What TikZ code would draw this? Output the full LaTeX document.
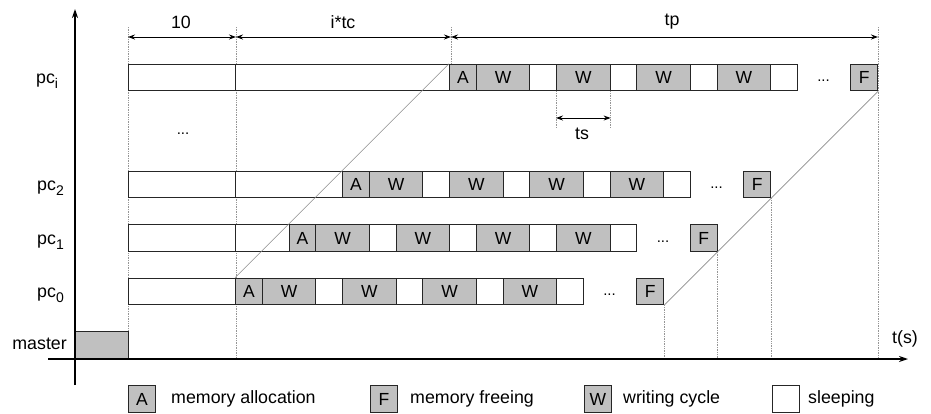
\documentclass[tikz,border=0pt]{standalone}
\usepackage{fontspec}
\setmainfont{Liberation Sans}
\usetikzlibrary{arrows.meta}
\definecolor{boxgray}{RGB}{192,192,192}
\definecolor{guide}{RGB}{150,150,150}
\definecolor{diagc}{RGB}{140,140,140}
\newcommand\fs{\fontsize{17.5}{20}\selectfont}
\newcommand\fl{\fontsize{17.8}{20}\selectfont}
\newcommand\seg[6]{\node[#1, minimum width={((#4)-(#3))*26.75pt}] (#2) at ({128+(#3)*26.75},#5) {#6};}
\begin{document}
\begin{tikzpicture}[x=1pt,y=-1pt,
  blk/.style={draw=black!85, line width=1.1pt, minimum height=26.5pt, inner sep=0pt, anchor=west, font=\fs},
  wbox/.style={blk, fill=white},
  gbox/.style={blk, fill=boxgray},
  guideline/.style={draw=guide, densely dotted, line width=0.7pt},
  diagline/.style={draw=diagc, line width=0.6pt},
  dim/.style={draw=black, line width=0.9pt, {Stealth[length=7pt,width=5pt]}-{Stealth[length=7pt,width=5pt]}},
  axis/.style={draw=black, line width=1.3pt, -{Stealth[length=9pt,width=6pt]}},
  lbl/.style={font=\fl, inner sep=0pt},
  ell/.style={font=\fontsize{15}{15}\selectfont, inner sep=0pt, anchor=base}]
\useasboundingbox (0,0) rectangle (931,413);

% guide coordinates
\coordinate (g0t) at (128,27); \coordinate (g0b) at (128,359);
\coordinate (g1t) at (236,27); \coordinate (g1b) at (236,359);
\coordinate (g2t) at (451,27); \coordinate (g2b) at (451,64);
\coordinate (g3t) at (878,27); \coordinate (g3b) at (878,359);
\draw[guideline] (g0t) -- (g0b);
\draw[guideline] (g1t) -- (g1b);
\draw[guideline] (g2t) -- (g2b);
\draw[guideline] (g3t) -- (g3b);

% rows
\foreach \r/\s/\yy in {0/4/291.5,1/6/238,2/8/184.5,i/12/77.5}{
  \seg{wbox}{p\r-a}{0}{4}{\yy}{}
  \ifnum\s>4 \seg{wbox}{p\r-b}{4}{\s}{\yy}{}\fi
  \seg{gbox}{p\r-A}{\s}{\s+1}{\yy}{A}
  \seg{gbox}{p\r-W1}{\s+1}{\s+3}{\yy}{W}
  \seg{wbox}{p\r-S1}{\s+3}{\s+4}{\yy}{}
  \seg{gbox}{p\r-W2}{\s+4}{\s+6}{\yy}{W}
  \seg{wbox}{p\r-S2}{\s+6}{\s+7}{\yy}{}
  \seg{gbox}{p\r-W3}{\s+7}{\s+9}{\yy}{W}
  \seg{wbox}{p\r-S3}{\s+9}{\s+10}{\yy}{}
  \seg{gbox}{p\r-W4}{\s+10}{\s+12}{\yy}{W}
  \seg{wbox}{p\r-S4}{\s+12}{\s+13}{\yy}{}
  \node[ell] (p\r-D) at ({128+(\s+14)*26.75},\yy+4) {...};
  \seg{gbox}{p\r-F}{\s+15}{\s+16}{\yy}{F}
}

% row labels
\node[lbl, anchor=base west] (lpi) at (36,83) {pc\raisebox{-5pt}{\fontsize{14}{14}\selectfont i}};
\node[lbl, anchor=base west] (lp2) at (37,190.5) {pc\raisebox{-5pt}{\fontsize{14}{14}\selectfont 2}};
\node[lbl, anchor=base west] (lp1) at (37,244) {pc\raisebox{-5pt}{\fontsize{14}{14}\selectfont 1}};
\node[lbl, anchor=base west] (lp0) at (37,297.5) {pc\raisebox{-5pt}{\fontsize{14}{14}\selectfont 0}};
\node[ell] (mdots) at (183,134) {...};

% diagonals
\draw[diagline] (p0-A.north west) -- (pi-A.north west);
\draw[diagline] (p0-F.south east) -- (pi-F.south east);

% guides below F boxes
\coordinate (f0) at (p0-F.south east |- g0b);
\coordinate (f1) at (p1-F.south east |- g0b);
\coordinate (f2) at (p2-F.south east |- g0b);
\draw[guideline] (p0-F.south east) -- (f0);
\draw[guideline] (p1-F.south east) -- (f1);
\draw[guideline] (p2-F.south east) -- (f2);

% ts
\coordinate (tsl) at (pi-W2.south west |- 0,128);
\coordinate (tsr) at (pi-W2.south east |- 0,128);
\draw[guideline] (pi-W2.south west) -- (tsl);
\draw[guideline] (pi-W2.south east) -- (tsr);
\coordinate (tsa) at (pi-W2.south west |- 0,118);
\coordinate (tsb) at (pi-W2.south east |- 0,118);
\draw[dim] (tsa) -- (tsb);
\node[lbl] (tslbl) at (582,134) {ts};

% dimensions
\coordinate (d0) at (128,37); \coordinate (d1) at (236,37);
\coordinate (d2) at (451,37); \coordinate (d3) at (878,37);
\draw[dim] (d0) -- (d1);
\draw[dim] (d1) -- (d2);
\draw[dim] (d2) -- (d3);
\node[lbl] (l10) at (181,22) {10};
\node[lbl] (litc) at (343,22) {i*tc};
\node[lbl] (ltp) at (672,22) {tp};

% master
\node[gbox, anchor=south west, minimum width=53pt, minimum height=27pt] (master) at (75,359) {};
\node[lbl, anchor=base east] (lmaster) at (67,349) {master};

% axes
\coordinate (yb) at (75,385); \coordinate (yt) at (75,9);
\coordinate (xl) at (48,359); \coordinate (xr) at (908,359);
\draw[axis] (yb) -- (yt);
\draw[axis] (xl) -- (xr);
\node[lbl] (lt) at (905,339) {t(s)};

% legend
\node[gbox, minimum width=26.75pt] (kA) at (128,399) {A};
\node[lbl, anchor=west] (tA) at (171,399) {memory allocation};
\node[gbox, minimum width=26.75pt] (kF) at (370,399) {F};
\node[lbl, anchor=west] (tF) at (410,399) {memory freeing};
\node[gbox, minimum width=26.75pt] (kW) at (584,399) {W};
\node[lbl, anchor=west] (tW) at (623,399) {writing cycle};
\node[wbox, minimum width=26.75pt] (kS) at (772,399) {};
\node[lbl, anchor=west] (tS) at (808,399) {sleeping};
\end{tikzpicture}
\end{document}
